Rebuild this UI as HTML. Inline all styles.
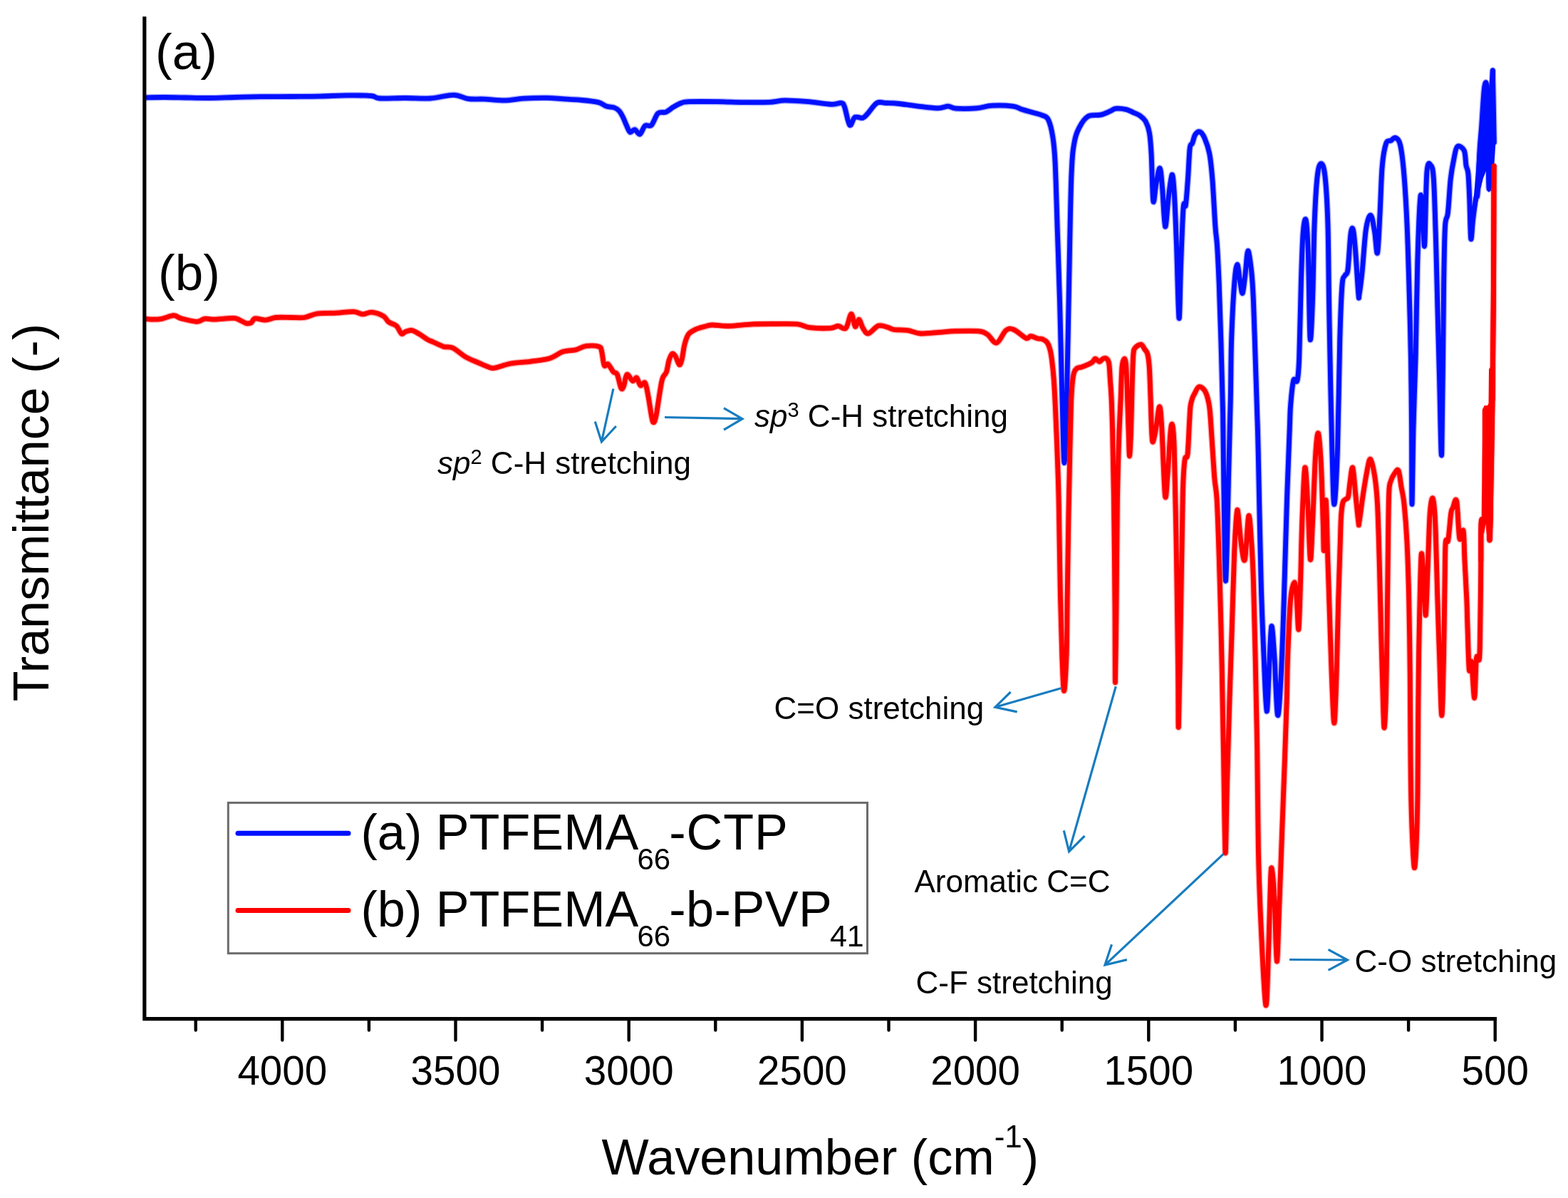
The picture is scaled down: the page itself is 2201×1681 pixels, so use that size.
<!DOCTYPE html>
<html><head><meta charset="utf-8"><title>FTIR spectra</title>
<style>html,body{margin:0;padding:0;background:#fff;width:2201px;height:1681px;overflow:hidden}</style>
</head><body>
<svg width="2201" height="1681" viewBox="0 0 2201 1681" style="display:block"><rect x="0" y="0" width="2201" height="1681" fill="#fff"/><defs><clipPath id="pc"><rect x="201" y="0" width="1920" height="1681"/></clipPath></defs><g clip-path="url(#pc)"><path d="M203.0,137.0 C207.5,136.9 220.5,136.5 230.0,136.5 C239.5,136.5 249.2,136.8 260.0,137.0 C270.8,137.2 282.8,137.6 294.5,137.5 C306.2,137.4 318.2,136.8 330.0,136.5 C341.8,136.2 352.2,135.9 365.5,135.7 C378.8,135.5 395.9,135.6 410.0,135.5 C424.1,135.4 437.4,135.4 450.0,135.1 C462.6,134.8 473.7,134.0 485.5,133.9 C497.3,133.8 513.0,133.8 520.9,134.5 C528.8,135.2 524.8,137.5 532.7,138.0 C540.6,138.5 556.4,137.5 568.2,137.5 C580.0,137.5 592.3,138.7 603.7,138.0 C615.1,137.3 627.9,133.2 636.8,133.3 C645.7,133.4 649.7,137.6 656.9,138.6 C664.1,139.6 671.3,138.7 680.0,139.1 C688.7,139.5 699.9,141.1 709.0,140.9 C718.1,140.8 724.8,138.8 734.5,138.2 C744.2,137.6 758.2,137.2 767.3,137.3 C776.4,137.4 780.8,138.2 789.0,138.7 C797.2,139.2 807.9,139.7 816.4,140.5 C824.9,141.3 834.2,142.2 840.0,143.6 C845.8,145.0 847.4,147.9 851.0,149.1 C854.6,150.3 858.8,149.8 861.8,150.9 C864.8,152.0 866.9,153.2 869.0,155.5 C871.1,157.8 872.7,160.9 874.5,164.5 C876.3,168.1 878.3,173.8 880.0,177.3 C881.7,180.8 882.7,184.8 884.5,185.5 C886.3,186.2 888.7,181.4 891.0,181.8 C893.3,182.2 895.8,189.1 898.2,188.2 C900.6,187.3 902.8,178.5 905.5,176.4 C908.2,174.3 911.5,178.4 914.5,175.5 C917.5,172.6 920.3,162.1 923.6,159.1 C926.9,156.1 930.9,158.8 934.5,157.3 C938.1,155.8 941.9,152.1 945.5,150.0 C949.1,147.9 952.8,145.7 956.4,144.5 C960.0,143.3 958.8,143.0 967.3,142.7 C975.8,142.4 994.6,142.5 1007.3,142.7 C1020.0,142.8 1031.5,143.5 1043.6,143.6 C1055.7,143.7 1070.3,143.8 1080.0,143.4 C1089.7,143.0 1092.7,141.0 1101.8,140.9 C1110.9,140.8 1123.6,141.8 1134.5,142.7 C1145.4,143.6 1159.6,146.1 1167.3,146.4 C1175.0,146.7 1177.9,143.9 1180.9,144.5 C1183.9,145.1 1183.5,144.8 1185.5,150.0 C1187.5,155.2 1190.3,173.1 1192.7,175.5 C1195.1,177.9 1197.0,166.2 1200.0,164.5 C1203.0,162.8 1207.9,166.4 1210.9,165.5 C1213.9,164.6 1214.9,162.6 1218.2,159.1 C1221.5,155.6 1226.7,146.9 1230.9,144.5 C1235.1,142.1 1238.4,144.3 1243.6,144.5 C1248.8,144.7 1254.2,144.7 1261.8,145.5 C1269.4,146.3 1279.9,148.0 1289.0,149.1 C1298.1,150.2 1309.4,151.8 1316.4,151.8 C1323.4,151.8 1326.7,149.0 1330.9,149.1 C1335.1,149.2 1335.1,151.8 1341.8,152.2 C1348.5,152.6 1362.4,152.5 1370.9,151.8 C1379.4,151.1 1384.2,148.6 1392.7,148.2 C1401.2,147.8 1414.8,148.2 1421.8,149.1 C1428.8,150.0 1429.8,152.1 1434.5,153.6 C1439.2,155.1 1445.2,156.6 1450.0,158.0 C1454.8,159.4 1459.5,160.2 1463.1,161.8 C1466.6,163.4 1468.8,162.5 1471.3,167.6 C1473.8,172.7 1476.2,182.1 1477.8,192.2 C1479.4,202.3 1480.0,205.8 1481.1,228.2 C1482.2,250.6 1483.3,293.7 1484.4,326.4 C1485.5,359.1 1486.5,386.4 1487.6,424.6 C1488.7,462.8 1489.8,518.0 1490.9,555.5 C1492.0,593.0 1492.9,649.5 1494.0,649.5 C1495.1,649.5 1496.4,598.4 1497.5,555.5 C1498.6,512.6 1499.6,443.7 1500.7,391.9 C1501.8,340.1 1502.6,277.3 1504.0,244.6 C1505.4,211.9 1506.5,207.5 1508.9,195.5 C1511.4,183.5 1515.4,178.1 1518.7,172.6 C1522.0,167.1 1524.2,164.6 1528.6,162.7 C1533.0,160.8 1540.0,162.2 1544.9,161.1 C1549.8,160.0 1554.5,157.7 1558.0,156.2 C1561.5,154.7 1562.4,152.7 1566.2,152.3 C1570.0,151.9 1576.8,152.7 1580.9,153.6 C1585.0,154.5 1587.6,156.4 1590.8,157.8 C1594.0,159.2 1597.1,160.1 1600.0,162.2 C1602.9,164.3 1605.8,166.2 1608.0,170.2 C1610.2,174.2 1612.1,178.7 1613.4,186.3 C1614.8,193.9 1615.2,199.9 1616.1,215.8 C1617.0,231.8 1617.7,274.9 1618.8,282.0 C1619.9,289.1 1621.2,266.3 1622.8,258.6 C1624.3,250.9 1626.6,235.1 1628.1,236.0 C1629.6,236.9 1630.3,250.3 1631.6,264.0 C1632.8,277.7 1634.2,315.8 1635.6,318.0 C1637.0,320.2 1638.6,289.5 1640.2,277.4 C1641.8,265.3 1643.7,246.5 1645.0,245.2 C1646.3,243.9 1647.1,252.9 1648.2,269.4 C1649.3,285.9 1650.4,314.9 1651.5,344.4 C1652.6,373.9 1654.0,442.0 1655.0,446.5 C1656.0,451.0 1656.6,397.1 1657.6,371.2 C1658.6,345.2 1660.0,304.6 1661.1,290.8 C1662.2,277.0 1663.2,294.8 1664.3,288.1 C1665.4,281.4 1666.5,264.0 1667.5,250.6 C1668.5,237.2 1669.2,216.0 1670.2,207.7 C1671.2,199.4 1672.5,204.1 1673.7,201.0 C1675.0,197.9 1675.9,191.7 1677.7,189.0 C1679.5,186.3 1682.2,184.1 1684.4,185.0 C1686.6,185.9 1688.9,189.2 1691.1,194.3 C1693.3,199.4 1696.0,206.4 1697.8,215.8 C1699.6,225.2 1700.4,233.6 1701.8,250.6 C1703.2,267.6 1704.8,302.0 1705.9,317.6 C1707.0,333.2 1707.6,331.0 1708.5,344.4 C1709.4,357.8 1710.3,375.7 1711.2,398.0 C1712.1,420.3 1713.0,448.1 1713.9,478.4 C1714.8,508.7 1715.9,544.1 1716.6,580.0 C1717.3,615.9 1717.3,654.8 1718.0,694.0 C1718.7,733.2 1719.5,819.5 1720.6,815.0 C1721.7,810.5 1723.5,709.5 1724.6,667.0 C1725.7,624.5 1726.6,591.4 1727.3,560.0 C1728.0,528.6 1727.7,505.4 1728.6,478.4 C1729.5,451.4 1731.3,415.9 1732.7,398.0 C1734.1,380.1 1735.4,371.6 1736.7,371.2 C1738.0,370.8 1739.5,388.6 1740.7,395.3 C1742.0,402.0 1743.0,413.2 1744.2,411.4 C1745.4,409.6 1746.7,394.5 1748.0,384.6 C1749.3,374.7 1750.3,352.6 1751.8,352.0 C1753.2,351.4 1755.4,369.5 1756.7,381.0 C1758.0,392.5 1758.5,401.1 1759.4,421.2 C1760.3,441.3 1761.2,474.8 1762.1,501.6 C1763.0,528.4 1764.0,560.6 1764.7,582.0 C1765.4,603.4 1765.2,591.3 1766.1,630.0 C1767.0,668.7 1768.8,765.8 1770.1,814.4 C1771.4,863.0 1772.8,891.0 1774.1,921.6 C1775.4,952.2 1776.8,995.8 1778.1,998.0 C1779.3,1000.2 1780.5,954.9 1781.6,935.0 C1782.7,915.1 1783.6,880.9 1784.8,878.7 C1786.0,876.5 1787.5,900.8 1788.9,921.6 C1790.3,942.4 1791.9,999.0 1793.4,1003.5 C1795.0,1008.0 1796.7,975.4 1798.2,948.4 C1799.7,921.4 1801.0,881.4 1802.3,841.2 C1803.6,801.0 1805.0,747.4 1806.3,707.2 C1807.6,667.0 1809.4,623.1 1810.3,600.0 C1811.2,576.9 1810.7,579.6 1811.6,568.6 C1812.5,557.6 1814.1,539.6 1815.7,533.8 C1817.3,528.0 1819.7,539.2 1821.0,533.8 C1822.3,528.4 1822.8,524.8 1823.7,501.6 C1824.6,478.4 1825.5,423.4 1826.4,394.4 C1827.3,365.4 1828.0,341.7 1829.1,327.4 C1830.2,313.1 1831.9,304.2 1833.1,308.7 C1834.3,313.2 1835.3,326.5 1836.3,354.2 C1837.3,381.9 1838.0,463.6 1839.0,474.8 C1840.0,486.0 1841.5,448.0 1842.5,421.2 C1843.5,394.4 1844.0,343.0 1845.1,314.0 C1846.2,285.0 1847.6,261.1 1849.2,247.0 C1850.8,232.9 1852.7,229.6 1854.5,229.6 C1856.3,229.6 1858.3,232.9 1859.9,247.0 C1861.5,261.1 1863.0,285.0 1863.9,314.0 C1864.8,343.0 1864.9,385.5 1865.5,421.2 C1866.1,456.9 1866.8,493.6 1867.5,528.4 C1868.2,563.2 1868.9,600.1 1869.8,630.0 C1870.7,659.9 1871.5,707.7 1872.8,707.7 C1874.1,707.7 1876.2,668.8 1877.5,630.0 C1878.8,591.2 1879.7,513.2 1880.8,474.8 C1881.9,436.4 1882.8,414.5 1884.0,399.8 C1885.2,385.1 1886.7,390.0 1888.0,386.4 C1889.3,382.8 1890.7,388.1 1892.0,378.3 C1893.3,368.5 1894.8,336.5 1896.1,327.4 C1897.4,318.2 1898.5,318.9 1899.6,323.4 C1900.7,327.9 1901.6,339.4 1902.8,354.2 C1904.0,369.0 1905.9,402.2 1906.8,412.0 C1907.7,421.8 1907.1,418.2 1908.0,413.0 C1908.9,407.8 1910.5,396.2 1912.1,381.0 C1913.7,365.8 1915.4,335.2 1917.4,322.0 C1919.4,308.8 1922.1,301.6 1924.1,302.0 C1926.1,302.4 1927.9,315.9 1929.5,324.7 C1931.1,333.5 1932.2,359.0 1933.5,355.0 C1934.8,351.0 1935.9,320.8 1937.0,300.6 C1938.1,280.4 1938.8,250.1 1940.2,233.6 C1941.6,217.1 1943.6,207.4 1945.6,201.4 C1947.6,195.4 1950.1,198.7 1952.3,197.4 C1954.5,196.1 1956.8,192.3 1959.0,193.4 C1961.2,194.5 1963.7,195.2 1965.7,204.1 C1967.7,213.0 1969.5,228.7 1971.0,247.0 C1972.5,265.3 1973.9,289.4 1975.0,314.0 C1976.1,338.6 1976.8,363.1 1977.7,394.4 C1978.6,425.7 1979.8,467.3 1980.4,501.6 C1981.0,535.9 1981.2,565.7 1981.5,600.0 C1981.8,634.3 1981.6,707.5 1982.0,707.5 C1982.4,707.5 1983.2,634.3 1984.0,600.0 C1984.8,565.7 1986.1,540.3 1987.1,501.6 C1988.1,462.9 1988.7,405.1 1989.8,367.6 C1990.9,330.1 1992.6,287.7 1993.8,276.5 C1995.0,265.3 1996.0,289.4 1997.0,300.6 C1998.0,311.9 1998.7,353.8 1999.7,344.0 C2000.7,334.2 2001.4,260.4 2002.9,241.8 C2004.4,223.2 2007.0,230.6 2008.6,232.2 C2010.2,233.8 2011.3,235.4 2012.4,251.3 C2013.5,267.2 2014.4,302.7 2015.2,327.4 C2016.0,352.1 2016.2,365.9 2017.1,399.7 C2018.0,433.5 2019.4,490.7 2020.5,530.0 C2021.6,569.3 2022.8,657.2 2023.8,635.5 C2024.8,613.8 2025.8,452.6 2026.6,399.7 C2027.4,346.8 2027.5,334.7 2028.5,317.9 C2029.5,301.1 2031.1,309.9 2032.4,298.8 C2033.7,287.7 2034.8,264.0 2036.2,251.3 C2037.6,238.6 2039.3,230.3 2040.9,222.7 C2042.5,215.1 2043.3,207.5 2045.7,205.6 C2048.1,203.7 2053.1,206.9 2055.2,211.3 C2057.2,215.7 2057.1,226.8 2058.0,232.2 C2058.9,237.6 2060.1,235.8 2060.9,243.7 C2061.7,251.6 2062.2,264.6 2062.8,279.8 C2063.4,295.0 2063.9,330.2 2064.7,335.0 C2065.5,339.8 2066.5,317.6 2067.6,308.4 C2068.7,299.2 2070.3,286.1 2071.4,279.8 C2072.5,273.5 2073.3,281.8 2074.2,270.3 C2075.1,258.8 2076.1,226.2 2077.0,210.9 C2077.9,195.6 2078.5,192.8 2079.6,178.2 C2080.7,163.5 2082.3,131.7 2083.6,123.0 C2084.9,114.3 2086.5,111.3 2087.5,126.0 C2088.5,140.7 2089.1,187.7 2089.5,210.9 C2089.9,234.1 2089.4,262.8 2090.1,265.0 C2090.8,267.2 2092.5,237.4 2093.4,224.0 C2094.3,210.6 2095.0,205.5 2095.3,184.7 C2095.6,163.9 2095.0,96.5 2095.3,99.0 C2095.6,101.5 2097.0,183.2 2097.3,200.0" fill="none" stroke="#0010FF" stroke-opacity="0.3" stroke-width="9.5" stroke-linejoin="round" stroke-linecap="round"/><path d="M203.0,137.0 C207.5,136.9 220.5,136.5 230.0,136.5 C239.5,136.5 249.2,136.8 260.0,137.0 C270.8,137.2 282.8,137.6 294.5,137.5 C306.2,137.4 318.2,136.8 330.0,136.5 C341.8,136.2 352.2,135.9 365.5,135.7 C378.8,135.5 395.9,135.6 410.0,135.5 C424.1,135.4 437.4,135.4 450.0,135.1 C462.6,134.8 473.7,134.0 485.5,133.9 C497.3,133.8 513.0,133.8 520.9,134.5 C528.8,135.2 524.8,137.5 532.7,138.0 C540.6,138.5 556.4,137.5 568.2,137.5 C580.0,137.5 592.3,138.7 603.7,138.0 C615.1,137.3 627.9,133.2 636.8,133.3 C645.7,133.4 649.7,137.6 656.9,138.6 C664.1,139.6 671.3,138.7 680.0,139.1 C688.7,139.5 699.9,141.1 709.0,140.9 C718.1,140.8 724.8,138.8 734.5,138.2 C744.2,137.6 758.2,137.2 767.3,137.3 C776.4,137.4 780.8,138.2 789.0,138.7 C797.2,139.2 807.9,139.7 816.4,140.5 C824.9,141.3 834.2,142.2 840.0,143.6 C845.8,145.0 847.4,147.9 851.0,149.1 C854.6,150.3 858.8,149.8 861.8,150.9 C864.8,152.0 866.9,153.2 869.0,155.5 C871.1,157.8 872.7,160.9 874.5,164.5 C876.3,168.1 878.3,173.8 880.0,177.3 C881.7,180.8 882.7,184.8 884.5,185.5 C886.3,186.2 888.7,181.4 891.0,181.8 C893.3,182.2 895.8,189.1 898.2,188.2 C900.6,187.3 902.8,178.5 905.5,176.4 C908.2,174.3 911.5,178.4 914.5,175.5 C917.5,172.6 920.3,162.1 923.6,159.1 C926.9,156.1 930.9,158.8 934.5,157.3 C938.1,155.8 941.9,152.1 945.5,150.0 C949.1,147.9 952.8,145.7 956.4,144.5 C960.0,143.3 958.8,143.0 967.3,142.7 C975.8,142.4 994.6,142.5 1007.3,142.7 C1020.0,142.8 1031.5,143.5 1043.6,143.6 C1055.7,143.7 1070.3,143.8 1080.0,143.4 C1089.7,143.0 1092.7,141.0 1101.8,140.9 C1110.9,140.8 1123.6,141.8 1134.5,142.7 C1145.4,143.6 1159.6,146.1 1167.3,146.4 C1175.0,146.7 1177.9,143.9 1180.9,144.5 C1183.9,145.1 1183.5,144.8 1185.5,150.0 C1187.5,155.2 1190.3,173.1 1192.7,175.5 C1195.1,177.9 1197.0,166.2 1200.0,164.5 C1203.0,162.8 1207.9,166.4 1210.9,165.5 C1213.9,164.6 1214.9,162.6 1218.2,159.1 C1221.5,155.6 1226.7,146.9 1230.9,144.5 C1235.1,142.1 1238.4,144.3 1243.6,144.5 C1248.8,144.7 1254.2,144.7 1261.8,145.5 C1269.4,146.3 1279.9,148.0 1289.0,149.1 C1298.1,150.2 1309.4,151.8 1316.4,151.8 C1323.4,151.8 1326.7,149.0 1330.9,149.1 C1335.1,149.2 1335.1,151.8 1341.8,152.2 C1348.5,152.6 1362.4,152.5 1370.9,151.8 C1379.4,151.1 1384.2,148.6 1392.7,148.2 C1401.2,147.8 1414.8,148.2 1421.8,149.1 C1428.8,150.0 1429.8,152.1 1434.5,153.6 C1439.2,155.1 1445.2,156.6 1450.0,158.0 C1454.8,159.4 1459.5,160.2 1463.1,161.8 C1466.6,163.4 1468.8,162.5 1471.3,167.6 C1473.8,172.7 1476.2,182.1 1477.8,192.2 C1479.4,202.3 1480.0,205.8 1481.1,228.2 C1482.2,250.6 1483.3,293.7 1484.4,326.4 C1485.5,359.1 1486.5,386.4 1487.6,424.6 C1488.7,462.8 1489.8,518.0 1490.9,555.5 C1492.0,593.0 1492.9,649.5 1494.0,649.5 C1495.1,649.5 1496.4,598.4 1497.5,555.5 C1498.6,512.6 1499.6,443.7 1500.7,391.9 C1501.8,340.1 1502.6,277.3 1504.0,244.6 C1505.4,211.9 1506.5,207.5 1508.9,195.5 C1511.4,183.5 1515.4,178.1 1518.7,172.6 C1522.0,167.1 1524.2,164.6 1528.6,162.7 C1533.0,160.8 1540.0,162.2 1544.9,161.1 C1549.8,160.0 1554.5,157.7 1558.0,156.2 C1561.5,154.7 1562.4,152.7 1566.2,152.3 C1570.0,151.9 1576.8,152.7 1580.9,153.6 C1585.0,154.5 1587.6,156.4 1590.8,157.8 C1594.0,159.2 1597.1,160.1 1600.0,162.2 C1602.9,164.3 1605.8,166.2 1608.0,170.2 C1610.2,174.2 1612.1,178.7 1613.4,186.3 C1614.8,193.9 1615.2,199.9 1616.1,215.8 C1617.0,231.8 1617.7,274.9 1618.8,282.0 C1619.9,289.1 1621.2,266.3 1622.8,258.6 C1624.3,250.9 1626.6,235.1 1628.1,236.0 C1629.6,236.9 1630.3,250.3 1631.6,264.0 C1632.8,277.7 1634.2,315.8 1635.6,318.0 C1637.0,320.2 1638.6,289.5 1640.2,277.4 C1641.8,265.3 1643.7,246.5 1645.0,245.2 C1646.3,243.9 1647.1,252.9 1648.2,269.4 C1649.3,285.9 1650.4,314.9 1651.5,344.4 C1652.6,373.9 1654.0,442.0 1655.0,446.5 C1656.0,451.0 1656.6,397.1 1657.6,371.2 C1658.6,345.2 1660.0,304.6 1661.1,290.8 C1662.2,277.0 1663.2,294.8 1664.3,288.1 C1665.4,281.4 1666.5,264.0 1667.5,250.6 C1668.5,237.2 1669.2,216.0 1670.2,207.7 C1671.2,199.4 1672.5,204.1 1673.7,201.0 C1675.0,197.9 1675.9,191.7 1677.7,189.0 C1679.5,186.3 1682.2,184.1 1684.4,185.0 C1686.6,185.9 1688.9,189.2 1691.1,194.3 C1693.3,199.4 1696.0,206.4 1697.8,215.8 C1699.6,225.2 1700.4,233.6 1701.8,250.6 C1703.2,267.6 1704.8,302.0 1705.9,317.6 C1707.0,333.2 1707.6,331.0 1708.5,344.4 C1709.4,357.8 1710.3,375.7 1711.2,398.0 C1712.1,420.3 1713.0,448.1 1713.9,478.4 C1714.8,508.7 1715.9,544.1 1716.6,580.0 C1717.3,615.9 1717.3,654.8 1718.0,694.0 C1718.7,733.2 1719.5,819.5 1720.6,815.0 C1721.7,810.5 1723.5,709.5 1724.6,667.0 C1725.7,624.5 1726.6,591.4 1727.3,560.0 C1728.0,528.6 1727.7,505.4 1728.6,478.4 C1729.5,451.4 1731.3,415.9 1732.7,398.0 C1734.1,380.1 1735.4,371.6 1736.7,371.2 C1738.0,370.8 1739.5,388.6 1740.7,395.3 C1742.0,402.0 1743.0,413.2 1744.2,411.4 C1745.4,409.6 1746.7,394.5 1748.0,384.6 C1749.3,374.7 1750.3,352.6 1751.8,352.0 C1753.2,351.4 1755.4,369.5 1756.7,381.0 C1758.0,392.5 1758.5,401.1 1759.4,421.2 C1760.3,441.3 1761.2,474.8 1762.1,501.6 C1763.0,528.4 1764.0,560.6 1764.7,582.0 C1765.4,603.4 1765.2,591.3 1766.1,630.0 C1767.0,668.7 1768.8,765.8 1770.1,814.4 C1771.4,863.0 1772.8,891.0 1774.1,921.6 C1775.4,952.2 1776.8,995.8 1778.1,998.0 C1779.3,1000.2 1780.5,954.9 1781.6,935.0 C1782.7,915.1 1783.6,880.9 1784.8,878.7 C1786.0,876.5 1787.5,900.8 1788.9,921.6 C1790.3,942.4 1791.9,999.0 1793.4,1003.5 C1795.0,1008.0 1796.7,975.4 1798.2,948.4 C1799.7,921.4 1801.0,881.4 1802.3,841.2 C1803.6,801.0 1805.0,747.4 1806.3,707.2 C1807.6,667.0 1809.4,623.1 1810.3,600.0 C1811.2,576.9 1810.7,579.6 1811.6,568.6 C1812.5,557.6 1814.1,539.6 1815.7,533.8 C1817.3,528.0 1819.7,539.2 1821.0,533.8 C1822.3,528.4 1822.8,524.8 1823.7,501.6 C1824.6,478.4 1825.5,423.4 1826.4,394.4 C1827.3,365.4 1828.0,341.7 1829.1,327.4 C1830.2,313.1 1831.9,304.2 1833.1,308.7 C1834.3,313.2 1835.3,326.5 1836.3,354.2 C1837.3,381.9 1838.0,463.6 1839.0,474.8 C1840.0,486.0 1841.5,448.0 1842.5,421.2 C1843.5,394.4 1844.0,343.0 1845.1,314.0 C1846.2,285.0 1847.6,261.1 1849.2,247.0 C1850.8,232.9 1852.7,229.6 1854.5,229.6 C1856.3,229.6 1858.3,232.9 1859.9,247.0 C1861.5,261.1 1863.0,285.0 1863.9,314.0 C1864.8,343.0 1864.9,385.5 1865.5,421.2 C1866.1,456.9 1866.8,493.6 1867.5,528.4 C1868.2,563.2 1868.9,600.1 1869.8,630.0 C1870.7,659.9 1871.5,707.7 1872.8,707.7 C1874.1,707.7 1876.2,668.8 1877.5,630.0 C1878.8,591.2 1879.7,513.2 1880.8,474.8 C1881.9,436.4 1882.8,414.5 1884.0,399.8 C1885.2,385.1 1886.7,390.0 1888.0,386.4 C1889.3,382.8 1890.7,388.1 1892.0,378.3 C1893.3,368.5 1894.8,336.5 1896.1,327.4 C1897.4,318.2 1898.5,318.9 1899.6,323.4 C1900.7,327.9 1901.6,339.4 1902.8,354.2 C1904.0,369.0 1905.9,402.2 1906.8,412.0 C1907.7,421.8 1907.1,418.2 1908.0,413.0 C1908.9,407.8 1910.5,396.2 1912.1,381.0 C1913.7,365.8 1915.4,335.2 1917.4,322.0 C1919.4,308.8 1922.1,301.6 1924.1,302.0 C1926.1,302.4 1927.9,315.9 1929.5,324.7 C1931.1,333.5 1932.2,359.0 1933.5,355.0 C1934.8,351.0 1935.9,320.8 1937.0,300.6 C1938.1,280.4 1938.8,250.1 1940.2,233.6 C1941.6,217.1 1943.6,207.4 1945.6,201.4 C1947.6,195.4 1950.1,198.7 1952.3,197.4 C1954.5,196.1 1956.8,192.3 1959.0,193.4 C1961.2,194.5 1963.7,195.2 1965.7,204.1 C1967.7,213.0 1969.5,228.7 1971.0,247.0 C1972.5,265.3 1973.9,289.4 1975.0,314.0 C1976.1,338.6 1976.8,363.1 1977.7,394.4 C1978.6,425.7 1979.8,467.3 1980.4,501.6 C1981.0,535.9 1981.2,565.7 1981.5,600.0 C1981.8,634.3 1981.6,707.5 1982.0,707.5 C1982.4,707.5 1983.2,634.3 1984.0,600.0 C1984.8,565.7 1986.1,540.3 1987.1,501.6 C1988.1,462.9 1988.7,405.1 1989.8,367.6 C1990.9,330.1 1992.6,287.7 1993.8,276.5 C1995.0,265.3 1996.0,289.4 1997.0,300.6 C1998.0,311.9 1998.7,353.8 1999.7,344.0 C2000.7,334.2 2001.4,260.4 2002.9,241.8 C2004.4,223.2 2007.0,230.6 2008.6,232.2 C2010.2,233.8 2011.3,235.4 2012.4,251.3 C2013.5,267.2 2014.4,302.7 2015.2,327.4 C2016.0,352.1 2016.2,365.9 2017.1,399.7 C2018.0,433.5 2019.4,490.7 2020.5,530.0 C2021.6,569.3 2022.8,657.2 2023.8,635.5 C2024.8,613.8 2025.8,452.6 2026.6,399.7 C2027.4,346.8 2027.5,334.7 2028.5,317.9 C2029.5,301.1 2031.1,309.9 2032.4,298.8 C2033.7,287.7 2034.8,264.0 2036.2,251.3 C2037.6,238.6 2039.3,230.3 2040.9,222.7 C2042.5,215.1 2043.3,207.5 2045.7,205.6 C2048.1,203.7 2053.1,206.9 2055.2,211.3 C2057.2,215.7 2057.1,226.8 2058.0,232.2 C2058.9,237.6 2060.1,235.8 2060.9,243.7 C2061.7,251.6 2062.2,264.6 2062.8,279.8 C2063.4,295.0 2063.9,330.2 2064.7,335.0 C2065.5,339.8 2066.5,317.6 2067.6,308.4 C2068.7,299.2 2070.3,286.1 2071.4,279.8 C2072.5,273.5 2073.3,281.8 2074.2,270.3 C2075.1,258.8 2076.1,226.2 2077.0,210.9 C2077.9,195.6 2078.5,192.8 2079.6,178.2 C2080.7,163.5 2082.3,131.7 2083.6,123.0 C2084.9,114.3 2086.5,111.3 2087.5,126.0 C2088.5,140.7 2089.1,187.7 2089.5,210.9 C2089.9,234.1 2089.4,262.8 2090.1,265.0 C2090.8,267.2 2092.5,237.4 2093.4,224.0 C2094.3,210.6 2095.0,205.5 2095.3,184.7 C2095.6,163.9 2095.0,96.5 2095.3,99.0 C2095.6,101.5 2097.0,183.2 2097.3,200.0" fill="none" stroke="#0010FF" stroke-width="6.8" stroke-linejoin="round" stroke-linecap="round"/><path d="M203.0,447.3 C204.9,447.4 210.4,448.2 214.5,448.2 C218.6,448.2 222.5,448.2 227.3,447.3 C232.2,446.4 239.1,442.8 243.6,442.7 C248.1,442.6 249.0,445.5 254.5,446.9 C260.0,448.3 270.9,451.2 276.4,451.3 C281.9,451.4 283.1,447.8 287.3,447.3 C291.5,446.8 295.1,448.4 301.8,448.2 C308.5,448.0 321.5,446.2 327.3,446.4 C333.1,446.5 333.4,447.9 336.4,449.1 C339.4,450.3 342.8,453.0 345.5,453.6 C348.2,454.2 350.6,453.8 352.7,452.7 C354.8,451.6 354.9,447.5 358.2,446.9 C361.5,446.3 367.8,449.3 372.7,449.1 C377.6,448.9 381.2,446.1 387.3,445.5 C393.4,444.9 402.4,445.5 409.1,445.5 C415.8,445.5 421.2,446.4 427.3,445.5 C433.4,444.6 437.9,441.1 445.5,440.0 C453.1,438.9 464.2,439.6 472.7,439.1 C481.2,438.7 490.3,437.0 496.4,437.3 C502.5,437.6 504.9,440.8 509.1,440.9 C513.3,441.0 516.9,437.8 521.8,438.2 C526.6,438.6 534.2,441.3 538.2,443.6 C542.2,445.9 542.5,449.5 545.5,451.8 C548.5,454.1 553.4,454.6 556.4,457.3 C559.4,460.0 561.5,466.8 563.6,468.2 C565.7,469.6 566.7,466.3 569.1,465.5 C571.5,464.7 574.9,463.0 578.2,463.6 C581.5,464.2 585.5,467.0 589.1,469.1 C592.7,471.2 596.8,474.6 600.0,476.4 C603.2,478.2 604.4,478.3 608.2,480.0 C612.0,481.7 618.2,485.0 622.7,486.4 C627.2,487.8 630.4,485.8 635.5,488.2 C640.6,490.6 647.6,497.4 653.6,500.9 C659.6,504.4 666.6,506.8 671.8,509.1 C676.9,511.4 680.9,513.3 684.5,514.5 C688.1,515.7 688.1,517.1 693.6,516.4 C699.1,515.6 708.8,511.5 717.3,510.0 C725.8,508.5 735.4,508.5 744.5,507.3 C753.6,506.1 764.2,505.0 771.8,502.7 C779.4,500.4 783.9,495.6 790.0,493.6 C796.1,491.6 802.8,492.2 808.2,490.9 C813.7,489.5 817.2,486.2 822.7,485.5 C828.2,484.8 837.3,485.2 840.9,486.4 C844.5,487.6 843.3,488.3 844.5,492.7 C845.7,497.1 846.7,509.7 848.2,512.7 C849.7,515.7 851.5,509.4 853.6,510.9 C855.7,512.4 858.8,519.4 860.9,521.8 C863.0,524.2 864.6,521.7 866.4,525.5 C868.2,529.3 870.3,541.8 871.8,544.5 C873.3,547.2 874.1,545.0 875.5,541.8 C876.9,538.6 877.9,526.7 880.0,525.5 C882.1,524.3 885.9,533.8 888.2,534.5 C890.5,535.2 891.8,528.9 893.6,530.0 C895.4,531.1 897.1,539.7 899.1,540.9 C901.1,542.1 903.7,534.7 905.5,537.3 C907.3,539.9 908.5,548.7 910.0,556.4 C911.5,564.1 913.3,577.5 914.5,583.6 C915.7,589.7 916.2,592.7 917.3,592.7 C918.4,592.7 919.4,590.9 920.9,583.6 C922.4,576.3 924.9,557.9 926.4,549.1 C927.9,540.3 928.5,535.5 930.0,530.9 C931.5,526.3 934.0,526.0 935.5,521.8 C937.0,517.6 937.8,509.7 939.1,505.5 C940.5,501.3 942.1,497.3 943.6,496.4 C945.1,495.5 946.5,497.4 948.2,500.0 C949.9,502.6 952.1,511.2 953.6,511.8 C955.1,512.4 956.1,508.3 957.3,503.6 C958.5,498.9 959.4,489.4 960.9,483.6 C962.4,477.9 963.7,472.7 966.4,469.1 C969.1,465.5 973.4,463.7 977.3,461.8 C981.2,459.9 986.3,459.0 990.0,458.0 C993.7,457.0 994.0,456.1 999.6,456.0 C1005.2,455.9 1014.1,457.7 1023.6,457.5 C1033.1,457.3 1045.5,455.4 1056.4,454.9 C1067.3,454.4 1078.6,454.5 1089.1,454.5 C1099.6,454.5 1111.6,454.0 1119.6,454.9 C1127.6,455.8 1129.4,458.8 1137.1,459.7 C1144.8,460.6 1159.0,460.8 1165.5,460.4 C1172.0,460.0 1172.8,457.5 1176.4,457.5 C1180.0,457.5 1184.2,463.2 1187.3,460.4 C1190.4,457.6 1192.7,441.1 1194.9,440.7 C1197.1,440.3 1198.6,456.9 1200.4,458.2 C1202.2,459.5 1204.0,448.0 1205.8,448.4 C1207.6,448.8 1209.1,457.1 1211.3,460.4 C1213.5,463.7 1215.3,468.6 1218.9,468.0 C1222.5,467.4 1228.5,458.6 1233.1,457.1 C1237.6,455.7 1242.6,458.4 1246.2,459.3 C1249.8,460.2 1250.2,461.8 1254.9,462.5 C1259.6,463.2 1268.3,462.7 1274.5,463.6 C1280.7,464.5 1284.7,467.6 1292.0,468.0 C1299.3,468.4 1310.2,466.9 1318.2,466.3 C1326.2,465.8 1330.9,465.0 1340.0,464.7 C1349.1,464.4 1365.1,464.0 1372.7,464.7 C1380.3,465.4 1381.4,466.4 1385.8,469.1 C1390.2,471.8 1394.5,482.0 1398.9,481.1 C1403.3,480.2 1408.0,466.7 1412.0,463.6 C1416.0,460.5 1418.2,460.7 1422.9,462.5 C1427.6,464.3 1436.4,473.0 1440.4,474.5 C1444.4,476.0 1444.0,471.6 1446.7,471.7 C1449.4,471.8 1453.9,474.3 1456.7,475.0 C1459.5,475.7 1461.1,474.8 1463.3,475.8 C1465.5,476.8 1468.2,478.2 1470.0,480.8 C1471.8,483.4 1473.1,487.4 1474.2,491.7 C1475.3,496.0 1475.9,500.0 1476.7,506.7 C1477.5,513.4 1478.4,520.6 1479.2,531.7 C1480.0,542.8 1480.8,558.0 1481.5,573.3 C1482.2,588.6 1482.9,606.6 1483.6,623.3 C1484.2,640.0 1484.9,657.2 1485.4,673.3 C1485.9,689.4 1486.0,692.5 1486.5,720.0 C1487.0,747.5 1487.8,804.7 1488.5,838.0 C1489.2,871.3 1490.0,898.1 1490.8,920.0 C1491.6,941.9 1492.6,969.5 1493.6,969.5 C1494.6,969.5 1496.2,941.9 1497.0,920.0 C1497.8,898.1 1497.7,871.3 1498.2,838.0 C1498.7,804.7 1499.4,753.0 1500.0,720.0 C1500.6,687.0 1501.2,664.5 1501.7,640.0 C1502.2,615.5 1502.8,590.0 1503.3,573.3 C1503.8,556.6 1504.3,548.3 1505.0,540.0 C1505.7,531.7 1506.4,527.2 1507.5,523.3 C1508.6,519.4 1509.9,518.1 1511.7,516.7 C1513.5,515.3 1515.8,515.8 1518.3,515.0 C1520.8,514.2 1524.2,512.8 1526.7,511.7 C1529.2,510.6 1531.5,509.7 1533.3,508.3 C1535.1,506.9 1535.8,503.4 1537.5,503.3 C1539.2,503.2 1541.5,507.5 1543.3,507.5 C1545.1,507.5 1546.6,504.0 1548.3,503.3 C1550.0,502.6 1551.9,502.2 1553.3,503.3 C1554.7,504.4 1555.9,505.3 1556.7,510.0 C1557.5,514.7 1557.8,523.9 1558.3,531.7 C1558.8,539.5 1559.4,544.2 1560.0,556.7 C1560.6,569.2 1561.1,582.8 1561.7,606.7 C1562.3,630.6 1563.0,659.5 1563.5,700.0 C1564.0,740.5 1564.7,807.1 1565.0,850.0 C1565.3,892.9 1565.2,957.5 1565.5,957.5 C1565.8,957.5 1566.5,892.9 1567.0,850.0 C1567.5,807.1 1567.9,738.3 1568.5,700.0 C1569.1,661.7 1569.7,643.9 1570.5,620.0 C1571.3,596.1 1572.5,574.2 1573.3,556.7 C1574.0,539.2 1574.2,523.9 1575.0,515.0 C1575.8,506.1 1577.3,503.3 1578.3,503.3 C1579.3,503.3 1580.1,506.1 1580.8,515.0 C1581.5,523.9 1581.9,541.4 1582.5,556.7 C1583.1,572.0 1583.7,592.8 1584.2,606.7 C1584.7,620.6 1585.0,640.0 1585.5,640.0 C1586.0,640.0 1586.9,623.4 1587.5,606.7 C1588.1,590.0 1588.7,558.1 1589.2,540.0 C1589.8,521.9 1590.1,506.9 1590.8,498.3 C1591.5,489.7 1591.5,490.8 1593.3,488.3 C1595.1,485.8 1599.5,483.0 1601.7,483.3 C1603.9,483.6 1605.2,487.8 1606.7,490.0 C1608.2,492.2 1609.7,492.5 1610.8,496.7 C1611.9,500.9 1612.6,505.0 1613.3,515.0 C1614.0,525.0 1614.4,541.4 1615.0,556.7 C1615.6,572.0 1616.1,596.2 1616.7,606.7 C1617.3,617.2 1617.5,621.1 1618.5,620.0 C1619.5,618.9 1621.3,608.4 1622.8,600.2 C1624.3,592.0 1626.3,570.7 1627.6,570.7 C1628.9,570.7 1629.5,579.5 1630.8,600.2 C1632.1,620.9 1634.1,683.8 1635.4,695.0 C1636.8,706.2 1637.7,681.7 1638.9,667.2 C1640.2,652.7 1641.8,620.0 1642.9,608.2 C1644.0,596.4 1644.7,593.1 1645.6,596.2 C1646.5,599.3 1647.3,601.8 1648.2,627.0 C1649.1,652.2 1650.0,696.2 1650.9,747.6 C1651.8,799.0 1653.0,890.1 1653.6,935.2 C1654.2,980.4 1653.7,1031.9 1654.4,1018.5 C1655.1,1005.1 1656.6,908.9 1657.6,854.8 C1658.6,800.7 1659.4,728.8 1660.3,694.0 C1661.2,659.2 1661.9,655.2 1663.0,645.8 C1664.1,636.4 1665.9,647.0 1667.0,637.7 C1668.1,628.4 1669.0,601.3 1669.7,590.0 C1670.4,578.7 1670.3,575.2 1671.0,570.0 C1671.7,564.8 1672.7,561.8 1673.7,558.8 C1674.7,555.8 1675.5,554.7 1677.0,552.0 C1678.5,549.3 1680.7,543.4 1683.0,542.8 C1685.3,542.1 1688.8,544.5 1691.1,548.1 C1693.3,551.7 1695.2,557.8 1696.5,564.2 C1697.8,570.7 1697.9,569.6 1699.2,586.8 C1700.5,604.0 1703.0,647.1 1704.5,667.2 C1706.0,687.3 1707.2,680.6 1708.5,707.4 C1709.8,734.2 1711.5,790.0 1712.6,828.0 C1713.7,866.0 1714.4,896.5 1715.2,935.2 C1716.0,973.9 1716.7,1016.5 1717.5,1060.0 C1718.3,1103.5 1719.2,1189.8 1720.0,1196.5 C1720.8,1203.2 1721.5,1136.1 1722.5,1100.0 C1723.5,1063.9 1724.9,1016.4 1726.0,980.0 C1727.1,943.6 1728.2,915.9 1729.3,881.6 C1730.4,847.3 1731.5,802.1 1732.7,774.4 C1733.9,746.7 1735.2,717.7 1736.7,715.5 C1738.2,713.3 1740.2,749.4 1742.0,761.0 C1743.8,772.6 1745.6,791.3 1747.4,785.1 C1749.2,778.9 1751.2,728.0 1752.7,724.0 C1754.2,720.0 1755.6,745.7 1756.7,760.8 C1757.8,775.9 1758.5,787.6 1759.4,814.4 C1760.3,841.2 1761.2,882.3 1762.1,921.6 C1763.0,960.9 1764.0,1004.5 1764.7,1050.0 C1765.4,1095.5 1765.5,1152.5 1766.4,1194.4 C1767.3,1236.3 1768.5,1265.6 1770.2,1301.6 C1771.9,1337.6 1775.0,1406.0 1776.8,1410.5 C1778.6,1415.0 1779.7,1357.7 1780.8,1328.4 C1781.9,1299.1 1782.7,1252.7 1783.5,1234.6 C1784.3,1216.5 1784.5,1215.5 1785.4,1220.0 C1786.3,1224.5 1787.8,1239.9 1788.9,1261.4 C1790.1,1282.9 1791.2,1346.8 1792.3,1349.0 C1793.4,1351.2 1794.4,1305.0 1795.6,1274.8 C1796.8,1244.6 1798.3,1203.3 1799.6,1167.6 C1800.9,1131.9 1802.5,1091.7 1803.6,1060.4 C1804.7,1029.1 1805.6,1003.1 1806.3,980.0 C1807.0,956.9 1806.7,944.7 1807.6,921.6 C1808.5,898.5 1810.0,858.6 1811.6,841.2 C1813.2,823.8 1815.6,817.1 1817.0,817.1 C1818.4,817.1 1819.2,830.2 1820.2,841.2 C1821.2,852.2 1822.0,887.5 1822.9,883.0 C1823.8,878.5 1824.8,839.2 1825.6,814.4 C1826.4,789.6 1826.7,760.4 1827.7,734.0 C1828.7,707.6 1830.4,660.8 1831.7,656.3 C1833.0,651.8 1834.5,685.8 1835.8,707.2 C1837.1,728.7 1838.2,780.5 1839.3,785.0 C1840.4,789.5 1841.3,758.1 1842.5,734.0 C1843.7,709.9 1845.2,661.2 1846.5,640.2 C1847.8,619.2 1849.2,605.8 1850.5,608.0 C1851.8,610.2 1853.4,632.6 1854.5,653.6 C1855.6,674.6 1856.5,714.3 1857.2,734.0 C1857.9,753.7 1857.8,777.4 1858.5,772.0 C1859.2,766.6 1860.3,699.2 1861.2,701.8 C1862.1,704.4 1863.0,759.9 1863.9,787.6 C1864.8,815.3 1865.7,841.2 1866.6,868.0 C1867.5,894.8 1868.3,924.0 1869.3,948.4 C1870.3,972.8 1871.7,1014.6 1872.8,1014.6 C1873.9,1014.6 1875.0,977.3 1876.0,948.4 C1877.0,919.5 1877.8,872.5 1878.7,841.2 C1879.6,809.9 1880.7,780.2 1881.3,760.8 C1881.9,741.4 1881.9,734.3 1882.5,725.0 C1883.1,715.7 1883.9,709.1 1885.0,705.0 C1886.1,700.9 1887.8,701.8 1889.0,700.5 C1890.2,699.2 1891.5,700.9 1892.5,697.0 C1893.5,693.1 1894.0,683.8 1895.0,677.0 C1896.0,670.2 1897.5,653.5 1898.8,656.3 C1900.1,659.1 1901.5,681.2 1902.8,693.8 C1904.1,706.4 1905.9,725.6 1906.8,732.0 C1907.7,738.4 1906.9,738.4 1908.0,732.0 C1909.1,725.6 1911.6,705.5 1913.4,693.8 C1915.2,682.1 1917.1,669.9 1918.8,661.6 C1920.5,653.3 1921.8,643.3 1923.6,644.2 C1925.4,645.1 1927.8,656.5 1929.5,667.0 C1931.2,677.5 1932.4,687.1 1933.5,707.2 C1934.6,727.3 1935.3,756.3 1936.2,787.6 C1937.1,818.9 1938.0,861.3 1938.9,894.8 C1939.8,928.3 1940.8,967.8 1941.5,988.6 C1942.2,1009.4 1942.6,1026.4 1943.4,1019.7 C1944.2,1013.0 1945.3,987.1 1946.1,948.4 C1946.9,909.7 1947.6,830.0 1948.2,787.6 C1948.8,745.2 1948.9,712.6 1949.6,693.8 C1950.3,675.0 1951.0,679.9 1952.3,675.0 C1953.6,670.1 1955.8,666.8 1957.6,664.3 C1959.4,661.8 1961.4,657.2 1963.0,660.3 C1964.6,663.4 1965.7,675.3 1967.0,683.1 C1968.3,690.9 1969.7,694.2 1971.0,707.2 C1972.3,720.2 1973.9,738.5 1975.0,760.8 C1976.1,783.1 1977.0,809.9 1977.7,841.2 C1978.4,872.5 1979.0,916.9 1979.3,948.4 C1979.6,979.9 1979.6,1003.1 1979.8,1030.0 C1980.0,1056.9 1980.1,1085.8 1980.6,1110.0 C1981.0,1134.2 1981.7,1157.0 1982.5,1175.0 C1983.3,1193.0 1984.5,1217.7 1985.5,1217.7 C1986.5,1217.7 1987.8,1193.0 1988.5,1175.0 C1989.2,1157.0 1989.7,1134.2 1990.0,1110.0 C1990.3,1085.8 1990.3,1057.0 1990.5,1030.0 C1990.7,1003.0 1990.9,975.0 1991.2,948.0 C1991.5,921.0 1991.8,896.3 1992.5,868.0 C1993.2,839.7 1994.1,787.1 1995.1,778.2 C1996.1,769.3 1997.6,800.3 1998.6,814.4 C1999.6,828.5 2000.3,867.5 2001.3,863.0 C2002.3,858.5 2003.5,811.3 2004.5,787.6 C2005.5,763.9 2006.1,735.3 2007.2,720.6 C2008.3,705.9 2010.0,697.0 2011.2,699.2 C2012.5,701.4 2013.6,710.3 2014.7,734.0 C2015.8,757.7 2016.9,809.9 2017.9,841.2 C2018.9,872.5 2019.6,894.5 2020.6,921.6 C2021.6,948.7 2022.8,1004.0 2023.8,1004.0 C2024.8,1004.0 2025.8,953.2 2026.5,921.6 C2027.2,890.0 2027.6,841.2 2028.1,814.4 C2028.5,787.6 2028.4,770.2 2029.2,760.8 C2030.0,751.4 2031.5,764.8 2032.7,758.1 C2034.0,751.4 2035.6,728.2 2036.7,720.6 C2037.8,713.0 2038.1,715.5 2039.4,712.6 C2040.7,709.7 2043.1,696.1 2044.7,703.2 C2046.3,710.4 2047.2,748.6 2048.8,755.5 C2050.4,762.4 2052.9,739.5 2054.1,744.7 C2055.3,749.9 2055.2,770.5 2056.0,786.6 C2056.8,802.7 2058.1,825.4 2058.8,841.4 C2059.5,857.4 2059.5,866.1 2060.1,882.5 C2060.7,898.9 2061.4,932.2 2062.3,940.0 C2063.2,947.8 2064.4,922.4 2065.6,929.0 C2066.8,935.6 2068.5,980.3 2069.7,979.4 C2070.8,978.5 2071.3,932.9 2072.5,923.6 C2073.7,914.3 2075.7,932.7 2076.6,923.6 C2077.5,914.5 2077.5,891.6 2077.9,868.8 C2078.3,846.0 2078.6,809.4 2078.8,786.6 C2079.0,763.8 2078.5,741.8 2079.3,731.8 C2080.1,721.8 2082.5,740.0 2083.4,726.3 C2084.3,712.6 2084.6,674.7 2084.8,649.6 C2085.0,624.5 2084.3,580.2 2084.8,575.6 C2085.3,571.0 2086.6,592.0 2087.6,622.2 C2088.6,652.4 2089.9,747.9 2090.8,757.0 C2091.7,766.1 2092.4,704.0 2093.0,677.0 C2093.6,650.0 2094.0,617.6 2094.4,594.8 C2094.8,572.0 2094.8,572.5 2095.2,540.0 C2095.5,507.5 2096.2,451.2 2096.5,400.0 C2096.8,348.8 2096.9,260.8 2097.0,233.0" fill="none" stroke="#FF0000" stroke-opacity="0.3" stroke-width="9.5" stroke-linejoin="round" stroke-linecap="round"/><path d="M203.0,447.3 C204.9,447.4 210.4,448.2 214.5,448.2 C218.6,448.2 222.5,448.2 227.3,447.3 C232.2,446.4 239.1,442.8 243.6,442.7 C248.1,442.6 249.0,445.5 254.5,446.9 C260.0,448.3 270.9,451.2 276.4,451.3 C281.9,451.4 283.1,447.8 287.3,447.3 C291.5,446.8 295.1,448.4 301.8,448.2 C308.5,448.0 321.5,446.2 327.3,446.4 C333.1,446.5 333.4,447.9 336.4,449.1 C339.4,450.3 342.8,453.0 345.5,453.6 C348.2,454.2 350.6,453.8 352.7,452.7 C354.8,451.6 354.9,447.5 358.2,446.9 C361.5,446.3 367.8,449.3 372.7,449.1 C377.6,448.9 381.2,446.1 387.3,445.5 C393.4,444.9 402.4,445.5 409.1,445.5 C415.8,445.5 421.2,446.4 427.3,445.5 C433.4,444.6 437.9,441.1 445.5,440.0 C453.1,438.9 464.2,439.6 472.7,439.1 C481.2,438.7 490.3,437.0 496.4,437.3 C502.5,437.6 504.9,440.8 509.1,440.9 C513.3,441.0 516.9,437.8 521.8,438.2 C526.6,438.6 534.2,441.3 538.2,443.6 C542.2,445.9 542.5,449.5 545.5,451.8 C548.5,454.1 553.4,454.6 556.4,457.3 C559.4,460.0 561.5,466.8 563.6,468.2 C565.7,469.6 566.7,466.3 569.1,465.5 C571.5,464.7 574.9,463.0 578.2,463.6 C581.5,464.2 585.5,467.0 589.1,469.1 C592.7,471.2 596.8,474.6 600.0,476.4 C603.2,478.2 604.4,478.3 608.2,480.0 C612.0,481.7 618.2,485.0 622.7,486.4 C627.2,487.8 630.4,485.8 635.5,488.2 C640.6,490.6 647.6,497.4 653.6,500.9 C659.6,504.4 666.6,506.8 671.8,509.1 C676.9,511.4 680.9,513.3 684.5,514.5 C688.1,515.7 688.1,517.1 693.6,516.4 C699.1,515.6 708.8,511.5 717.3,510.0 C725.8,508.5 735.4,508.5 744.5,507.3 C753.6,506.1 764.2,505.0 771.8,502.7 C779.4,500.4 783.9,495.6 790.0,493.6 C796.1,491.6 802.8,492.2 808.2,490.9 C813.7,489.5 817.2,486.2 822.7,485.5 C828.2,484.8 837.3,485.2 840.9,486.4 C844.5,487.6 843.3,488.3 844.5,492.7 C845.7,497.1 846.7,509.7 848.2,512.7 C849.7,515.7 851.5,509.4 853.6,510.9 C855.7,512.4 858.8,519.4 860.9,521.8 C863.0,524.2 864.6,521.7 866.4,525.5 C868.2,529.3 870.3,541.8 871.8,544.5 C873.3,547.2 874.1,545.0 875.5,541.8 C876.9,538.6 877.9,526.7 880.0,525.5 C882.1,524.3 885.9,533.8 888.2,534.5 C890.5,535.2 891.8,528.9 893.6,530.0 C895.4,531.1 897.1,539.7 899.1,540.9 C901.1,542.1 903.7,534.7 905.5,537.3 C907.3,539.9 908.5,548.7 910.0,556.4 C911.5,564.1 913.3,577.5 914.5,583.6 C915.7,589.7 916.2,592.7 917.3,592.7 C918.4,592.7 919.4,590.9 920.9,583.6 C922.4,576.3 924.9,557.9 926.4,549.1 C927.9,540.3 928.5,535.5 930.0,530.9 C931.5,526.3 934.0,526.0 935.5,521.8 C937.0,517.6 937.8,509.7 939.1,505.5 C940.5,501.3 942.1,497.3 943.6,496.4 C945.1,495.5 946.5,497.4 948.2,500.0 C949.9,502.6 952.1,511.2 953.6,511.8 C955.1,512.4 956.1,508.3 957.3,503.6 C958.5,498.9 959.4,489.4 960.9,483.6 C962.4,477.9 963.7,472.7 966.4,469.1 C969.1,465.5 973.4,463.7 977.3,461.8 C981.2,459.9 986.3,459.0 990.0,458.0 C993.7,457.0 994.0,456.1 999.6,456.0 C1005.2,455.9 1014.1,457.7 1023.6,457.5 C1033.1,457.3 1045.5,455.4 1056.4,454.9 C1067.3,454.4 1078.6,454.5 1089.1,454.5 C1099.6,454.5 1111.6,454.0 1119.6,454.9 C1127.6,455.8 1129.4,458.8 1137.1,459.7 C1144.8,460.6 1159.0,460.8 1165.5,460.4 C1172.0,460.0 1172.8,457.5 1176.4,457.5 C1180.0,457.5 1184.2,463.2 1187.3,460.4 C1190.4,457.6 1192.7,441.1 1194.9,440.7 C1197.1,440.3 1198.6,456.9 1200.4,458.2 C1202.2,459.5 1204.0,448.0 1205.8,448.4 C1207.6,448.8 1209.1,457.1 1211.3,460.4 C1213.5,463.7 1215.3,468.6 1218.9,468.0 C1222.5,467.4 1228.5,458.6 1233.1,457.1 C1237.6,455.7 1242.6,458.4 1246.2,459.3 C1249.8,460.2 1250.2,461.8 1254.9,462.5 C1259.6,463.2 1268.3,462.7 1274.5,463.6 C1280.7,464.5 1284.7,467.6 1292.0,468.0 C1299.3,468.4 1310.2,466.9 1318.2,466.3 C1326.2,465.8 1330.9,465.0 1340.0,464.7 C1349.1,464.4 1365.1,464.0 1372.7,464.7 C1380.3,465.4 1381.4,466.4 1385.8,469.1 C1390.2,471.8 1394.5,482.0 1398.9,481.1 C1403.3,480.2 1408.0,466.7 1412.0,463.6 C1416.0,460.5 1418.2,460.7 1422.9,462.5 C1427.6,464.3 1436.4,473.0 1440.4,474.5 C1444.4,476.0 1444.0,471.6 1446.7,471.7 C1449.4,471.8 1453.9,474.3 1456.7,475.0 C1459.5,475.7 1461.1,474.8 1463.3,475.8 C1465.5,476.8 1468.2,478.2 1470.0,480.8 C1471.8,483.4 1473.1,487.4 1474.2,491.7 C1475.3,496.0 1475.9,500.0 1476.7,506.7 C1477.5,513.4 1478.4,520.6 1479.2,531.7 C1480.0,542.8 1480.8,558.0 1481.5,573.3 C1482.2,588.6 1482.9,606.6 1483.6,623.3 C1484.2,640.0 1484.9,657.2 1485.4,673.3 C1485.9,689.4 1486.0,692.5 1486.5,720.0 C1487.0,747.5 1487.8,804.7 1488.5,838.0 C1489.2,871.3 1490.0,898.1 1490.8,920.0 C1491.6,941.9 1492.6,969.5 1493.6,969.5 C1494.6,969.5 1496.2,941.9 1497.0,920.0 C1497.8,898.1 1497.7,871.3 1498.2,838.0 C1498.7,804.7 1499.4,753.0 1500.0,720.0 C1500.6,687.0 1501.2,664.5 1501.7,640.0 C1502.2,615.5 1502.8,590.0 1503.3,573.3 C1503.8,556.6 1504.3,548.3 1505.0,540.0 C1505.7,531.7 1506.4,527.2 1507.5,523.3 C1508.6,519.4 1509.9,518.1 1511.7,516.7 C1513.5,515.3 1515.8,515.8 1518.3,515.0 C1520.8,514.2 1524.2,512.8 1526.7,511.7 C1529.2,510.6 1531.5,509.7 1533.3,508.3 C1535.1,506.9 1535.8,503.4 1537.5,503.3 C1539.2,503.2 1541.5,507.5 1543.3,507.5 C1545.1,507.5 1546.6,504.0 1548.3,503.3 C1550.0,502.6 1551.9,502.2 1553.3,503.3 C1554.7,504.4 1555.9,505.3 1556.7,510.0 C1557.5,514.7 1557.8,523.9 1558.3,531.7 C1558.8,539.5 1559.4,544.2 1560.0,556.7 C1560.6,569.2 1561.1,582.8 1561.7,606.7 C1562.3,630.6 1563.0,659.5 1563.5,700.0 C1564.0,740.5 1564.7,807.1 1565.0,850.0 C1565.3,892.9 1565.2,957.5 1565.5,957.5 C1565.8,957.5 1566.5,892.9 1567.0,850.0 C1567.5,807.1 1567.9,738.3 1568.5,700.0 C1569.1,661.7 1569.7,643.9 1570.5,620.0 C1571.3,596.1 1572.5,574.2 1573.3,556.7 C1574.0,539.2 1574.2,523.9 1575.0,515.0 C1575.8,506.1 1577.3,503.3 1578.3,503.3 C1579.3,503.3 1580.1,506.1 1580.8,515.0 C1581.5,523.9 1581.9,541.4 1582.5,556.7 C1583.1,572.0 1583.7,592.8 1584.2,606.7 C1584.7,620.6 1585.0,640.0 1585.5,640.0 C1586.0,640.0 1586.9,623.4 1587.5,606.7 C1588.1,590.0 1588.7,558.1 1589.2,540.0 C1589.8,521.9 1590.1,506.9 1590.8,498.3 C1591.5,489.7 1591.5,490.8 1593.3,488.3 C1595.1,485.8 1599.5,483.0 1601.7,483.3 C1603.9,483.6 1605.2,487.8 1606.7,490.0 C1608.2,492.2 1609.7,492.5 1610.8,496.7 C1611.9,500.9 1612.6,505.0 1613.3,515.0 C1614.0,525.0 1614.4,541.4 1615.0,556.7 C1615.6,572.0 1616.1,596.2 1616.7,606.7 C1617.3,617.2 1617.5,621.1 1618.5,620.0 C1619.5,618.9 1621.3,608.4 1622.8,600.2 C1624.3,592.0 1626.3,570.7 1627.6,570.7 C1628.9,570.7 1629.5,579.5 1630.8,600.2 C1632.1,620.9 1634.1,683.8 1635.4,695.0 C1636.8,706.2 1637.7,681.7 1638.9,667.2 C1640.2,652.7 1641.8,620.0 1642.9,608.2 C1644.0,596.4 1644.7,593.1 1645.6,596.2 C1646.5,599.3 1647.3,601.8 1648.2,627.0 C1649.1,652.2 1650.0,696.2 1650.9,747.6 C1651.8,799.0 1653.0,890.1 1653.6,935.2 C1654.2,980.4 1653.7,1031.9 1654.4,1018.5 C1655.1,1005.1 1656.6,908.9 1657.6,854.8 C1658.6,800.7 1659.4,728.8 1660.3,694.0 C1661.2,659.2 1661.9,655.2 1663.0,645.8 C1664.1,636.4 1665.9,647.0 1667.0,637.7 C1668.1,628.4 1669.0,601.3 1669.7,590.0 C1670.4,578.7 1670.3,575.2 1671.0,570.0 C1671.7,564.8 1672.7,561.8 1673.7,558.8 C1674.7,555.8 1675.5,554.7 1677.0,552.0 C1678.5,549.3 1680.7,543.4 1683.0,542.8 C1685.3,542.1 1688.8,544.5 1691.1,548.1 C1693.3,551.7 1695.2,557.8 1696.5,564.2 C1697.8,570.7 1697.9,569.6 1699.2,586.8 C1700.5,604.0 1703.0,647.1 1704.5,667.2 C1706.0,687.3 1707.2,680.6 1708.5,707.4 C1709.8,734.2 1711.5,790.0 1712.6,828.0 C1713.7,866.0 1714.4,896.5 1715.2,935.2 C1716.0,973.9 1716.7,1016.5 1717.5,1060.0 C1718.3,1103.5 1719.2,1189.8 1720.0,1196.5 C1720.8,1203.2 1721.5,1136.1 1722.5,1100.0 C1723.5,1063.9 1724.9,1016.4 1726.0,980.0 C1727.1,943.6 1728.2,915.9 1729.3,881.6 C1730.4,847.3 1731.5,802.1 1732.7,774.4 C1733.9,746.7 1735.2,717.7 1736.7,715.5 C1738.2,713.3 1740.2,749.4 1742.0,761.0 C1743.8,772.6 1745.6,791.3 1747.4,785.1 C1749.2,778.9 1751.2,728.0 1752.7,724.0 C1754.2,720.0 1755.6,745.7 1756.7,760.8 C1757.8,775.9 1758.5,787.6 1759.4,814.4 C1760.3,841.2 1761.2,882.3 1762.1,921.6 C1763.0,960.9 1764.0,1004.5 1764.7,1050.0 C1765.4,1095.5 1765.5,1152.5 1766.4,1194.4 C1767.3,1236.3 1768.5,1265.6 1770.2,1301.6 C1771.9,1337.6 1775.0,1406.0 1776.8,1410.5 C1778.6,1415.0 1779.7,1357.7 1780.8,1328.4 C1781.9,1299.1 1782.7,1252.7 1783.5,1234.6 C1784.3,1216.5 1784.5,1215.5 1785.4,1220.0 C1786.3,1224.5 1787.8,1239.9 1788.9,1261.4 C1790.1,1282.9 1791.2,1346.8 1792.3,1349.0 C1793.4,1351.2 1794.4,1305.0 1795.6,1274.8 C1796.8,1244.6 1798.3,1203.3 1799.6,1167.6 C1800.9,1131.9 1802.5,1091.7 1803.6,1060.4 C1804.7,1029.1 1805.6,1003.1 1806.3,980.0 C1807.0,956.9 1806.7,944.7 1807.6,921.6 C1808.5,898.5 1810.0,858.6 1811.6,841.2 C1813.2,823.8 1815.6,817.1 1817.0,817.1 C1818.4,817.1 1819.2,830.2 1820.2,841.2 C1821.2,852.2 1822.0,887.5 1822.9,883.0 C1823.8,878.5 1824.8,839.2 1825.6,814.4 C1826.4,789.6 1826.7,760.4 1827.7,734.0 C1828.7,707.6 1830.4,660.8 1831.7,656.3 C1833.0,651.8 1834.5,685.8 1835.8,707.2 C1837.1,728.7 1838.2,780.5 1839.3,785.0 C1840.4,789.5 1841.3,758.1 1842.5,734.0 C1843.7,709.9 1845.2,661.2 1846.5,640.2 C1847.8,619.2 1849.2,605.8 1850.5,608.0 C1851.8,610.2 1853.4,632.6 1854.5,653.6 C1855.6,674.6 1856.5,714.3 1857.2,734.0 C1857.9,753.7 1857.8,777.4 1858.5,772.0 C1859.2,766.6 1860.3,699.2 1861.2,701.8 C1862.1,704.4 1863.0,759.9 1863.9,787.6 C1864.8,815.3 1865.7,841.2 1866.6,868.0 C1867.5,894.8 1868.3,924.0 1869.3,948.4 C1870.3,972.8 1871.7,1014.6 1872.8,1014.6 C1873.9,1014.6 1875.0,977.3 1876.0,948.4 C1877.0,919.5 1877.8,872.5 1878.7,841.2 C1879.6,809.9 1880.7,780.2 1881.3,760.8 C1881.9,741.4 1881.9,734.3 1882.5,725.0 C1883.1,715.7 1883.9,709.1 1885.0,705.0 C1886.1,700.9 1887.8,701.8 1889.0,700.5 C1890.2,699.2 1891.5,700.9 1892.5,697.0 C1893.5,693.1 1894.0,683.8 1895.0,677.0 C1896.0,670.2 1897.5,653.5 1898.8,656.3 C1900.1,659.1 1901.5,681.2 1902.8,693.8 C1904.1,706.4 1905.9,725.6 1906.8,732.0 C1907.7,738.4 1906.9,738.4 1908.0,732.0 C1909.1,725.6 1911.6,705.5 1913.4,693.8 C1915.2,682.1 1917.1,669.9 1918.8,661.6 C1920.5,653.3 1921.8,643.3 1923.6,644.2 C1925.4,645.1 1927.8,656.5 1929.5,667.0 C1931.2,677.5 1932.4,687.1 1933.5,707.2 C1934.6,727.3 1935.3,756.3 1936.2,787.6 C1937.1,818.9 1938.0,861.3 1938.9,894.8 C1939.8,928.3 1940.8,967.8 1941.5,988.6 C1942.2,1009.4 1942.6,1026.4 1943.4,1019.7 C1944.2,1013.0 1945.3,987.1 1946.1,948.4 C1946.9,909.7 1947.6,830.0 1948.2,787.6 C1948.8,745.2 1948.9,712.6 1949.6,693.8 C1950.3,675.0 1951.0,679.9 1952.3,675.0 C1953.6,670.1 1955.8,666.8 1957.6,664.3 C1959.4,661.8 1961.4,657.2 1963.0,660.3 C1964.6,663.4 1965.7,675.3 1967.0,683.1 C1968.3,690.9 1969.7,694.2 1971.0,707.2 C1972.3,720.2 1973.9,738.5 1975.0,760.8 C1976.1,783.1 1977.0,809.9 1977.7,841.2 C1978.4,872.5 1979.0,916.9 1979.3,948.4 C1979.6,979.9 1979.6,1003.1 1979.8,1030.0 C1980.0,1056.9 1980.1,1085.8 1980.6,1110.0 C1981.0,1134.2 1981.7,1157.0 1982.5,1175.0 C1983.3,1193.0 1984.5,1217.7 1985.5,1217.7 C1986.5,1217.7 1987.8,1193.0 1988.5,1175.0 C1989.2,1157.0 1989.7,1134.2 1990.0,1110.0 C1990.3,1085.8 1990.3,1057.0 1990.5,1030.0 C1990.7,1003.0 1990.9,975.0 1991.2,948.0 C1991.5,921.0 1991.8,896.3 1992.5,868.0 C1993.2,839.7 1994.1,787.1 1995.1,778.2 C1996.1,769.3 1997.6,800.3 1998.6,814.4 C1999.6,828.5 2000.3,867.5 2001.3,863.0 C2002.3,858.5 2003.5,811.3 2004.5,787.6 C2005.5,763.9 2006.1,735.3 2007.2,720.6 C2008.3,705.9 2010.0,697.0 2011.2,699.2 C2012.5,701.4 2013.6,710.3 2014.7,734.0 C2015.8,757.7 2016.9,809.9 2017.9,841.2 C2018.9,872.5 2019.6,894.5 2020.6,921.6 C2021.6,948.7 2022.8,1004.0 2023.8,1004.0 C2024.8,1004.0 2025.8,953.2 2026.5,921.6 C2027.2,890.0 2027.6,841.2 2028.1,814.4 C2028.5,787.6 2028.4,770.2 2029.2,760.8 C2030.0,751.4 2031.5,764.8 2032.7,758.1 C2034.0,751.4 2035.6,728.2 2036.7,720.6 C2037.8,713.0 2038.1,715.5 2039.4,712.6 C2040.7,709.7 2043.1,696.1 2044.7,703.2 C2046.3,710.4 2047.2,748.6 2048.8,755.5 C2050.4,762.4 2052.9,739.5 2054.1,744.7 C2055.3,749.9 2055.2,770.5 2056.0,786.6 C2056.8,802.7 2058.1,825.4 2058.8,841.4 C2059.5,857.4 2059.5,866.1 2060.1,882.5 C2060.7,898.9 2061.4,932.2 2062.3,940.0 C2063.2,947.8 2064.4,922.4 2065.6,929.0 C2066.8,935.6 2068.5,980.3 2069.7,979.4 C2070.8,978.5 2071.3,932.9 2072.5,923.6 C2073.7,914.3 2075.7,932.7 2076.6,923.6 C2077.5,914.5 2077.5,891.6 2077.9,868.8 C2078.3,846.0 2078.6,809.4 2078.8,786.6 C2079.0,763.8 2078.5,741.8 2079.3,731.8 C2080.1,721.8 2082.5,740.0 2083.4,726.3 C2084.3,712.6 2084.6,674.7 2084.8,649.6 C2085.0,624.5 2084.3,580.2 2084.8,575.6 C2085.3,571.0 2086.6,592.0 2087.6,622.2 C2088.6,652.4 2089.9,747.9 2090.8,757.0 C2091.7,766.1 2092.4,704.0 2093.0,677.0 C2093.6,650.0 2094.0,617.6 2094.4,594.8 C2094.8,572.0 2094.8,572.5 2095.2,540.0 C2095.5,507.5 2096.2,451.2 2096.5,400.0 C2096.8,348.8 2096.9,260.8 2097.0,233.0" fill="none" stroke="#FF0000" stroke-width="6.8" stroke-linejoin="round" stroke-linecap="round"/><polygon points="2068.0,285.0 2072.0,240.0 2074.5,205.0 2077.5,175.0 2081.0,128.0 2083.0,121.0 2087.0,120.0 2090.0,124.0 2092.0,99.0 2094.0,95.5 2097.0,95.5 2099.0,99.0 2099.0,205.0 2097.5,228.0 2094.0,235.0 2093.0,262.0 2090.0,270.0 2087.0,265.0 2086.0,240.0 2082.0,250.0 2079.0,262.0 2076.0,272.0 2073.0,290.0" fill="#0010FF"/><polygon points="2080.0,735.0 2080.5,650.0 2081.5,576.0 2083.5,569.0 2088.0,569.0 2089.5,566.0 2090.0,518.0 2093.0,514.0 2099.0,514.0 2099.0,560.0 2097.0,566.0 2096.0,600.0 2095.5,728.0 2094.5,756.0 2090.5,760.0 2087.0,750.0 2085.5,735.0 2083.0,750.0" fill="#FF0000"/><path d="M2078.8,786.6 C2078.9,777.5 2078.5,741.8 2079.3,731.8 C2080.1,721.8 2082.5,740.0 2083.4,726.3 C2084.3,712.6 2084.6,674.7 2084.8,649.6 C2085.0,624.5 2084.3,580.2 2084.8,575.6 C2085.3,571.0 2086.6,592.0 2087.6,622.2 C2088.6,652.4 2089.9,747.9 2090.8,757.0 C2091.7,766.1 2092.4,704.0 2093.0,677.0 C2093.6,650.0 2094.0,617.6 2094.4,594.8 C2094.8,572.0 2094.8,572.5 2095.2,540.0 C2095.5,507.5 2096.2,451.2 2096.5,400.0 C2096.8,348.8 2096.9,260.8 2097.0,233.0" fill="none" stroke="#FF0000" stroke-width="7" stroke-linejoin="round" stroke-linecap="round"/></g><path d="M202.8,23.3 V1429.6 H2101" fill="none" stroke="#000" stroke-width="5.2" stroke-linejoin="miter" stroke-linecap="butt"/><path d="M2098.7,1429.6 V1459.5 M1977.1,1429.6 V1445.5 M1855.5,1429.6 V1459.5 M1733.9,1429.6 V1445.5 M1612.3,1429.6 V1459.5 M1490.7,1429.6 V1445.5 M1369.1,1429.6 V1459.5 M1247.5,1429.6 V1445.5 M1125.9,1429.6 V1459.5 M1004.3,1429.6 V1445.5 M882.7,1429.6 V1459.5 M761.1,1429.6 V1445.5 M639.5,1429.6 V1459.5 M517.9,1429.6 V1445.5 M396.3,1429.6 V1459.5 M274.7,1429.6 V1445.5" stroke="#000" stroke-width="4.4" stroke-linecap="round" fill="none"/><text transform="translate(2098.7,1521.5) scale(0.975,1)" text-anchor="middle" style="font-family:'Liberation Sans',Arial,sans-serif;font-size:58px" fill="#000">500</text><text transform="translate(1855.5,1521.5) scale(0.975,1)" text-anchor="middle" style="font-family:'Liberation Sans',Arial,sans-serif;font-size:58px" fill="#000">1000</text><text transform="translate(1612.3,1521.5) scale(0.975,1)" text-anchor="middle" style="font-family:'Liberation Sans',Arial,sans-serif;font-size:58px" fill="#000">1500</text><text transform="translate(1369.1,1521.5) scale(0.975,1)" text-anchor="middle" style="font-family:'Liberation Sans',Arial,sans-serif;font-size:58px" fill="#000">2000</text><text transform="translate(1125.9,1521.5) scale(0.975,1)" text-anchor="middle" style="font-family:'Liberation Sans',Arial,sans-serif;font-size:58px" fill="#000">2500</text><text transform="translate(882.7,1521.5) scale(0.975,1)" text-anchor="middle" style="font-family:'Liberation Sans',Arial,sans-serif;font-size:58px" fill="#000">3000</text><text transform="translate(639.5,1521.5) scale(0.975,1)" text-anchor="middle" style="font-family:'Liberation Sans',Arial,sans-serif;font-size:58px" fill="#000">3500</text><text transform="translate(396.3,1521.5) scale(0.975,1)" text-anchor="middle" style="font-family:'Liberation Sans',Arial,sans-serif;font-size:58px" fill="#000">4000</text><text x="844.5" y="1647.5" style="font-family:'Liberation Sans',Arial,sans-serif;font-size:70.2px" fill="#000">Wavenumber (cm<tspan dy="-38" style="font-size:44px">-1</tspan><tspan dy="38">)</tspan></text><text transform="translate(68.3,984.3) rotate(-90)" style="font-family:'Liberation Sans',Arial,sans-serif;font-size:70px" fill="#000">Transmittance (-)</text><text x="218" y="96.5" style="font-family:'Liberation Sans',Arial,sans-serif;font-size:71px" fill="#000">(a)</text><text x="222" y="406.5" style="font-family:'Liberation Sans',Arial,sans-serif;font-size:71px" fill="#000">(b)</text><rect x="320.3" y="1126.4" width="897.2" height="211.3" fill="none" stroke="#6b6b6b" stroke-width="3"/><line x1="334" y1="1169.2" x2="489" y2="1169.2" stroke="#0010FF" stroke-width="7" stroke-linecap="round"/><line x1="334" y1="1277.6" x2="489" y2="1277.6" stroke="#FF0000" stroke-width="7" stroke-linecap="round"/><text x="506.5" y="1192" style="font-family:'Liberation Sans',Arial,sans-serif;font-size:70.2px" fill="#000">(a) PTFEMA<tspan dx="-2" dy="27.5" style="font-size:42px">66</tspan><tspan dx="-2" dy="-27.5" style="letter-spacing:1px">-CTP</tspan></text><text x="506.5" y="1300" style="font-family:'Liberation Sans',Arial,sans-serif;font-size:70.2px" fill="#000">(b) PTFEMA<tspan dx="-2" dy="27.5" style="font-size:42px">66</tspan><tspan dx="-2" dy="-27.5" style="letter-spacing:0.5px">-b-PVP</tspan><tspan dx="-3.5" dy="27.5" style="font-size:43px">41</tspan></text><text x="614" y="664.8" style="font-family:'Liberation Sans',Arial,sans-serif;font-size:44px" fill="#000"><tspan style="font-style:italic">sp</tspan><tspan dy="-14" style="font-size:29px">2</tspan><tspan dy="14"> C-H stretching</tspan></text><text x="1059" y="598.7" style="font-family:'Liberation Sans',Arial,sans-serif;font-size:44px" fill="#000"><tspan style="font-style:italic">sp</tspan><tspan dy="-14" style="font-size:29px">3</tspan><tspan dy="14"> C-H stretching</tspan></text><text x="1086.5" y="1009" style="font-family:'Liberation Sans',Arial,sans-serif;font-size:44px" fill="#000">C=O stretching</text><text x="1283.5" y="1251.5" style="font-family:'Liberation Sans',Arial,sans-serif;font-size:44px" fill="#000">Aromatic C=C</text><text x="1285.5" y="1393.6" style="font-family:'Liberation Sans',Arial,sans-serif;font-size:44px" fill="#000">C-F stretching</text><text x="1901.5" y="1363.7" style="font-family:'Liberation Sans',Arial,sans-serif;font-size:44px" fill="#000">C-O stretching</text><path d="M860.9,545.5 L844.4,620 M835.3,591.6 L844.4,620 L864.8,598 M933,585.5 L1042,587.7 M1016,572.7 L1042,587.7 L1016,603 M1489.2,965.7 L1396.9,992.2 M1418.6,971 L1396.9,992.2 L1427.7,998.9 M1566.3,963.3 L1500.6,1194.9 M1493.3,1165.3 L1500.6,1194.9 L1522.5,1173 M1717.5,1198.2 L1551,1354.1 M1560.5,1325.3 L1551,1354.1 L1581.9,1346.6 M1810,1346.5 L1891.4,1347 M1864.5,1332.3 L1891.4,1347 L1864.5,1361.4" fill="none" stroke="#177CBF" stroke-width="3.2" stroke-linejoin="miter" stroke-linecap="butt"/></svg>
</body></html>
